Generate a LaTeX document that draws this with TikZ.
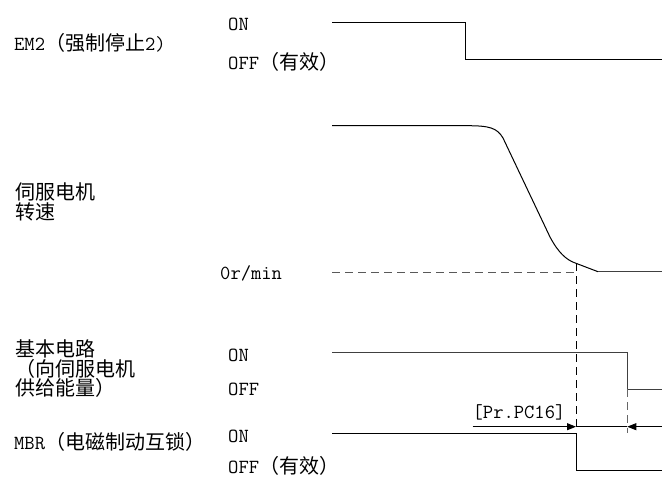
\documentclass[tikz,border=0pt]{standalone}
\usepackage{fontspec}
\newfontfamily\cjk{Noto Sans CJK SC}
\usetikzlibrary{arrows.meta}
\begin{document}
\begin{tikzpicture}[x=1pt,y=-1pt,
  lbl/.style={anchor=west,inner sep=0pt,font=\fontsize{20}{19.5}\selectfont\ttfamily,align=left},
  sig/.style={line width=1pt,black},
  sigg/.style={line width=1pt,black!75},
  zero/.style={line width=0.9pt,black!65,dash pattern=on 8pt off 5pt},
  guide/.style={line width=0.8pt,black,dash pattern=on 8pt off 5pt},
  guideg/.style={line width=0.8pt,black!60,dash pattern=on 8pt off 5pt},
  dim/.style={line width=0.8pt,black,-{Triangle[length=9pt,width=7pt]}}]
\useasboundingbox (0,0) rectangle (662,477);
% labels
\node[lbl] (em2) at (14,43) {EM2{\cjk （强制停止}2)};
\node[lbl] (em2on) at (228,24) {ON};
\node[lbl] (em2off) at (228,62) {OFF{\cjk （有效）}};
\node[lbl] (spd) at (15,202) {{\cjk 伺服电机}\\{\cjk 转速}};
\node[lbl] (zr) at (220,273) {0r/min};
\node[lbl] (base) at (15,369) {{\cjk 基本电路}\\{\cjk （向伺服电机}\\{\cjk 供给能量）}};
\node[lbl] (baseon) at (228,355) {ON};
\node[lbl] (baseoff) at (228,389) {OFF};
\node[lbl] (mbr) at (14,442) {MBR{\cjk （电磁制动互锁）}};
\node[lbl] (mbron) at (228,436) {ON};
\node[lbl] (mbroff) at (228,466) {OFF{\cjk （有效）}};
\node[inner sep=0pt,font=\fontsize{20}{20}\selectfont\ttfamily] (pc16) at (519,412) {[Pr.PC16]};
% EM2
\draw[sig] (332,22.3) -- (465.7,22.3) -- (465.7,59.3) -- (662,59.3);
% speed
\draw[zero] (332,272.7) -- (576,272.7);
\draw[sig] (332,125.7) -- (467,125.7) .. controls (490,125.7) and (497,128) .. (503,138)
  -- (550,237) .. controls (558,252) and (566,260) .. (576,263.3) -- (598,271.7);
\draw[sigg] (598,271.7) -- (662,271.7);
% base circuit
\draw[sigg] (332,352.7) -- (627.3,352.7) -- (627.3,389.3) -- (662,389.3);
% MBR
\draw[sig] (332,433.3) -- (576,433.3) -- (576,470.7) -- (662,470.7);
% guides
\coordinate (g1t) at (576,263.3);
\coordinate (g1b) at (576,427);
\coordinate (g2t) at (627.3,389.3);
\coordinate (g2b) at (627.3,433);
\draw[guide] (g1t) -- (g1b);
\draw[guideg] (g2t) -- (g2b);
% dimension arrows
\coordinate (a1) at (472.7,426.7);
\coordinate (a2) at (662,426.7);
\coordinate (t1) at (576,426.7);
\coordinate (t2) at (627.3,426.7);
\draw[dim] (a1) -- (t1);
\draw[dim] (a2) -- (t2);
\draw[line width=0.8pt] (t1) -- (t2);
\end{tikzpicture}
\end{document}
